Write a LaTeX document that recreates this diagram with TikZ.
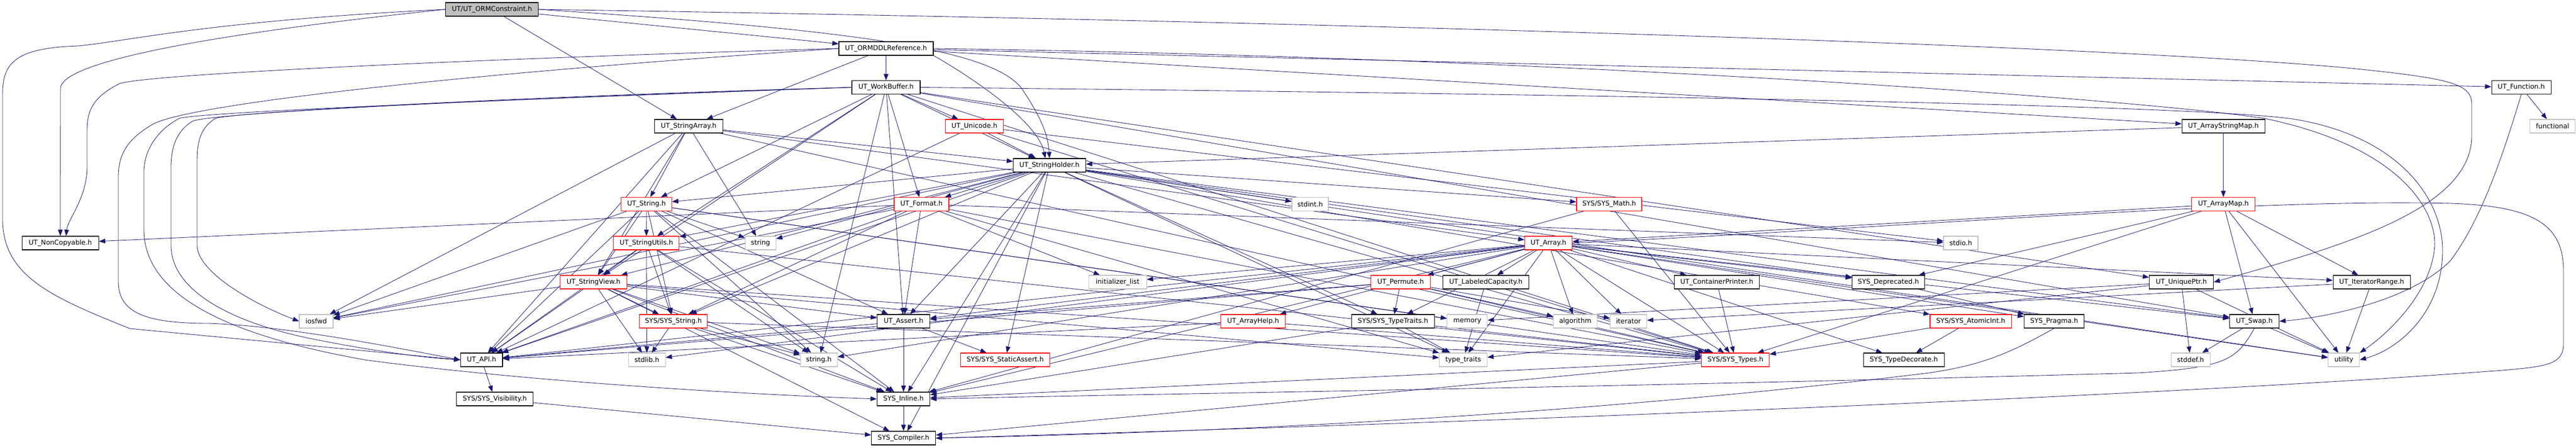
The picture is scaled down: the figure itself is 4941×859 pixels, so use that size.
\documentclass[tikz,border=0pt]{standalone}
\usepackage{fontspec}
\setmainfont{DejaVu Sans}
\usetikzlibrary{arrows.meta}
\definecolor{edgecol}{HTML}{191970}
\definecolor{graybd}{HTML}{BFBFBF}
\definecolor{redbd}{HTML}{FF0000}
\pgfdeclarelayer{edgelayer}
\pgfsetlayers{edgelayer,main}
\begin{document}
\begin{tikzpicture}[x=1pt,y=-1pt,
  nd/.style={draw=black, fill=white, line width=1.1pt, minimum height=26pt, inner sep=0pt,
             font=\fontsize{12.8}{14}\selectfont, text=black},
  rd/.style={nd, draw=redbd},
  gd/.style={nd, draw=graybd},
  e/.style={draw=edgecol, line width=0.85pt, -{Triangle[length=12pt,width=9pt]}}
]
\useasboundingbox (0,0) rectangle (4941,859);

% row 1-3
\node[nd, minimum width=178pt, fill=graybd] (ormc) at (943.6,18) {UT/UT\_ORMConstraint.h};
\node[nd, minimum width=181pt] (ormddl) at (1699.5,93) {UT\_ORMDDLReference.h};
\node[nd, minimum width=131pt] (wb) at (1699.5,167.5) {UT\_WorkBuffer.h};
\node[nd, minimum width=114pt] (func) at (4836,167.5) {UT\_Function.h};
% row 4
\node[nd, minimum width=131pt] (sa) at (1321,242) {UT\_StringArray.h};
\node[rd, minimum width=111pt] (uni) at (1869,242) {UT\_Unicode.h};
\node[nd, minimum width=159pt] (asm) at (4264.6,242) {UT\_ArrayStringMap.h};
\node[gd, minimum width=87pt] (functional) at (4896,242) {functional};
% row 5
\node[nd, minimum width=139pt] (sh) at (2013,317) {UT\_StringHolder.h};
% row 6
\node[rd, minimum width=97pt] (str) at (1240,391.5) {UT\_String.h};
\node[rd, minimum width=105pt] (fmt) at (1767.5,391.5) {UT\_Format.h};
\node[gd, minimum width=70pt] (stdint) at (2513,391.5) {stdint.h};
\node[rd, minimum width=125pt] (math) at (3086.5,391.5) {SYS/SYS\_Math.h};
\node[rd, minimum width=122pt] (amap) at (4264.6,391.5) {UT\_ArrayMap.h};
% row 7
\node[nd, minimum width=147pt] (nc) at (115.7,466) {UT\_NonCopyable.h};
\node[rd, minimum width=126pt] (su) at (1239.8,466) {UT\_StringUtils.h};
\node[gd, minimum width=59pt] (nstring) at (1458.7,466) {string};
\node[rd, minimum width=91pt] (arr) at (2970,466) {UT\_Array.h};
\node[gd, minimum width=66pt] (stdio) at (3761,466) {stdio.h};
% row 8
\node[rd, minimum width=128pt] (sv) at (1138.4,541) {UT\_StringView.h};
\node[gd, minimum width=111pt] (il) at (2143.7,541) {initializer\_list};
\node[rd, minimum width=114pt] (perm) at (2686.6,541) {UT\_Permute.h};
\node[nd, minimum width=165pt] (lc) at (2850,541) {UT\_LabeledCapacity.h};
\node[nd, minimum width=163pt] (cp) at (3293,541) {UT\_ContainerPrinter.h};
\node[nd, minimum width=139pt] (dep) at (3622,541) {SYS\_Deprecated.h};
\node[nd, minimum width=123pt] (up) at (4184,541) {UT\_UniquePtr.h};
\node[nd, minimum width=148pt] (ir) at (4549,541) {UT\_IteratorRange.h};
% row 9
\node[gd, minimum width=65pt] (iosfwd) at (606.5,616) {iosfwd};
\node[rd, minimum width=130pt] (sstr) at (1291.7,616) {SYS/SYS\_String.h};
\node[nd, minimum width=101pt] (assert) at (1733,616) {UT\_Assert.h};
\node[rd, minimum width=124pt] (ah) at (2403.6,616) {UT\_ArrayHelp.h};
\node[nd, minimum width=159pt] (tt) at (2671.7,616) {SYS/SYS\_TypeTraits.h};
\node[gd, minimum width=77pt] (memory) at (2814.4,616) {memory};
\node[gd, minimum width=84pt] (algorithm) at (3021.4,616) {algorithm};
\node[gd, minimum width=70pt] (iterator) at (3123.6,616) {iterator};
\node[rd, minimum width=156pt] (atomic) at (3780,616) {SYS/SYS\_AtomicInt.h};
\node[nd, minimum width=115pt] (pragma) at (3940,616) {SYS\_Pragma.h};
\node[nd, minimum width=95pt] (swap) at (4324,616) {UT\_Swap.h};
% row 10
\node[nd, minimum width=80.5pt] (api) at (923.7,690) {UT\_API.h};
\node[gd, minimum width=71pt] (stdlib) at (1240.8,690) {stdlib.h};
\node[gd, minimum width=71pt] (stringh) at (1570.6,690) {string.h};
\node[rd, minimum width=170.5pt] (sa2) at (1928,690) {SYS/SYS\_StaticAssert.h};
\node[gd, minimum width=91.6pt] (typetraits) at (2806.5,690) {type\_traits};
\node[rd, minimum width=130pt] (types) at (3328.7,690) {SYS/SYS\_Types.h};
\node[nd, minimum width=155pt] (td) at (3651.6,690) {SYS\_TypeDecorate.h};
\node[gd, minimum width=75pt] (stddef) at (4201.6,690) {stddef.h};
\node[gd, minimum width=60pt] (utility) at (4495.7,690) {utility};
% row 11-12
\node[nd, minimum width=147pt] (vis) at (949,765) {SYS/SYS\_Visibility.h};
\node[nd, minimum width=101.6pt] (inline) at (1733,765) {SYS\_Inline.h};
\node[nd, minimum width=123pt] (comp) at (1733,840) {SYS\_Compiler.h};

\begin{pgfonlayer}{edgelayer}
\fill[white] (0,0) rectangle (4941,859);
% routed edges
\draw[e] (ormc.west) .. controls (400,40) and (240,80) .. (150,88) .. controls (30,92) and (5,120) .. (5,180) -- (5,420) .. controls (5,530) and (100,570) .. (249,630) -- (api.west);
\draw[e] (ormc.west) .. controls (500,55) and (116,110) .. (116,170) -- (nc.north);
\draw[e] (ormddl.west) .. controls (1000,110) and (300,140) .. (230,160) .. controls (180,185) and (167,210) .. (167,250) -- (167,320) .. controls (167,380) and (130,420) .. ([xshift=11pt]nc.north);
\draw[e] (ormddl.west) .. controls (900,140) and (350,200) .. (290,240) .. controls (240,270) and (227,300) .. (227,340) -- (227,540) .. controls (227,600) and (280,620) .. (400,620) .. controls (550,625) and (750,665) .. (api.west);
\draw[e] (wb.west) .. controls (1000,185) and (450,215) .. (413,227) .. controls (385,245) and (378,270) .. (378,310) -- (378,470) .. controls (378,520) and (480,580) .. (iosfwd.west);
\draw[e] (wb.west) .. controls (1000,188) and (420,215) .. (370,232) .. controls (340,250) and (328,280) .. (328,320) -- (328,470) .. controls (328,560) and (450,620) .. (600,650) .. controls (700,670) and (800,685) .. (api.west);
\draw[e] (wb.west) .. controls (1000,190) and (380,215) .. (344,227) .. controls (300,250) and (276,290) .. (276,330) -- (276,440) .. controls (276,560) and (420,640) .. (700,690) .. controls (1000,730) and (1400,755) .. (inline.west);
\draw[e] (ormc.east) .. controls (2500,40) and (4000,85) .. (4500,130) .. controls (4700,150) and (4741,160) .. (4741,200) -- (4741,260) .. controls (4741,400) and (4500,470) .. (up.east);
\draw[e] (ormc.east) .. controls (1600,55) and (1900,90) .. (1960,170) .. controls (2000,230) and (2010,260) .. (sh.north);
\draw[e] (ormddl.south east) .. controls (1850,140) and (1990,230) .. ([xshift=-8pt]sh.north);
\draw[e] (arr.east) .. controls (3600,440) and (4300,380) .. (4700,390) .. controls (4860,395) and (4917,430) .. (4917,520) -- (4917,660) .. controls (4917,700) and (4880,703) .. (4800,710) .. controls (4000,770) and (2500,820) .. (comp.east);
\draw[e] (ormddl.east) .. controls (3000,110) and (4100,190) .. (4343,227) .. controls (4600,280) and (4672,400) .. (4670,470) .. controls (4665,560) and (4580,640) .. (utility.north east);
\draw[e] (wb.east) .. controls (3000,180) and (4200,200) .. (4397,228) .. controls (4600,260) and (4685,380) .. (4685,480) .. controls (4685,600) and (4600,670) .. (utility.east);
\draw[e] (swap.south) .. controls (4290,690) and (4270,705) .. (4100,715) .. controls (3000,745) and (2200,755) .. (inline.east);
\draw[e] (pragma.south) .. controls (3850,680) and (3800,700) .. (3700,715) .. controls (3000,800) and (2300,830) .. (comp.east);
\draw[e] (func.south) .. controls (4800,300) and (4760,420) .. (4700,500) .. controls (4620,580) and (4450,610) .. (swap.east);
% straight edges
\foreach \s/\t in {ormc/ormddl, ormc/sa,
 ormddl/wb, ormddl/sa, ormddl/func, ormddl/asm,
 wb/uni, wb/sh, wb/str, wb/fmt, wb/assert, wb/sv, wb/su, wb/up, wb/swap, wb/types, wb/stringh,
 sa/api, sa/iosfwd, sa/str, sa/nstring, sa/sh, sa/arr, sa/types, sa/sv,
 uni/sh, uni/api, uni/types, uni/stdio,
 asm/amap, asm/sh, func/functional,
 sh/str, sh/fmt, sh/stdint, sh/math, sh/su, sh/nstring, sh/iosfwd, sh/api, sh/assert, sh/sv, sh/sstr, sh/inline, sh/sa2, sh/swap, sh/types, sh/utility, sh/atomic, sh/dep, sh/typetraits, sh/tt, sh/comp,
 str/su, str/sv, str/sstr, str/api, str/iosfwd, str/nstring, str/stringh, str/assert, str/inline, str/types, str/memory,
 fmt/nc, fmt/iosfwd, fmt/api, fmt/assert, fmt/il, fmt/sstr, fmt/stdio, fmt/types, fmt/typetraits,
 math/types, math/inline,
 amap/arr, amap/types, amap/dep, amap/swap, amap/ir, amap/utility,
 su/sv, su/sstr, su/api, su/stringh, su/inline, su/stdlib, su/types,
 arr/perm, arr/lc, arr/cp, arr/dep, arr/ir, arr/il, arr/ah, arr/tt, arr/algorithm, arr/iterator, arr/typetraits, arr/types, arr/td, arr/pragma, arr/swap, arr/utility, arr/api, arr/assert, arr/stdlib, arr/stringh, arr/inline,
 sv/api, sv/sstr, sv/stringh, sv/iosfwd, sv/inline, sv/comp, sv/stdlib, sv/types, sv/typetraits, sv/assert,
 perm/tt, perm/algorithm, perm/iterator, perm/api, perm/assert, perm/types,
 lc/typetraits, cp/types, dep/pragma,
 up/memory, up/typetraits, up/stddef, up/utility,
 ir/utility, ir/iterator,
 sstr/stdlib, sstr/stringh, sstr/inline, sstr/types,
 assert/sa2, assert/inline, assert/api,
 ah/api, ah/types,
 tt/typetraits, tt/types, tt/inline,
 atomic/td, atomic/types,
 swap/stddef, swap/utility,
 api/vis, types/inline, types/comp, vis/comp, inline/comp}
 { \draw[e] (\s) -- (\t); }
\end{pgfonlayer}
\end{tikzpicture}
\end{document}
